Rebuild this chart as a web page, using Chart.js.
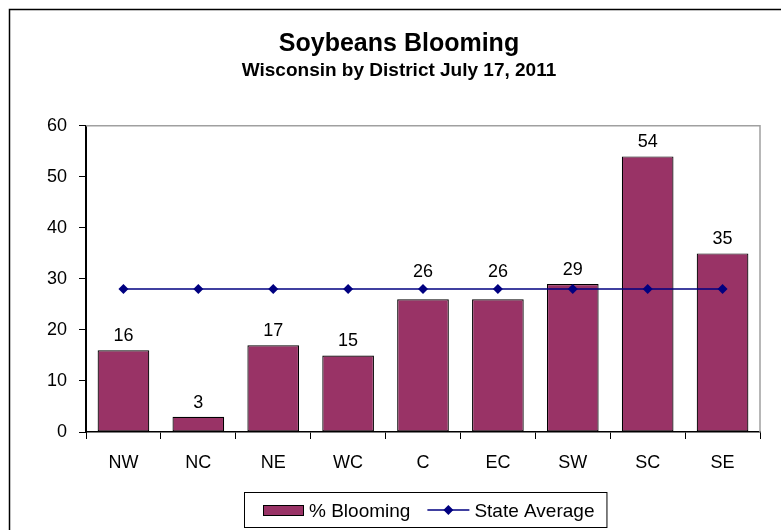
<!DOCTYPE html>
<html>
<head>
<meta charset="utf-8">
<script src="https://cdn.jsdelivr.net/npm/chart.js@4/dist/chart.umd.min.js"></script>
<style>
  html, body { margin: 0; padding: 0; background: #fff; }
  #wrap { width: 781px; height: 530px; }
</style>
</head>
<body>
<div id="wrap"><canvas id="c" width="781" height="530"></canvas></div>
<script>
const districts = ["NW", "NC", "NE", "WC", "C", "EC", "SW", "SC", "SE"];
const pctBlooming = [16, 3, 17, 15, 26, 26, 29, 54, 35];
const stateAverage = [28, 28, 28, 28, 28, 28, 28, 28, 28];
const yTicks = [0, 10, 20, 30, 40, 50, 60];
const titleText = "Soybeans Blooming";
const subtitleText = "Wisconsin by District July 17, 2011";
const seriesNames = ["% Blooming", "State Average"];

const FONT = "'Liberation Sans', Arial, sans-serif";
const BAR_COLOR = "#993366";
const LINE_COLOR = "#000080";

const framePlugin = {
  id: "frame",
  afterDraw(chart) {
    const ctx = chart.ctx;
    const a = chart.chartArea;
    ctx.save();
    // outer frame
    ctx.strokeStyle = "#000";
    ctx.lineWidth = 1.5;
    ctx.beginPath();
    ctx.moveTo(9.5, 531);
    ctx.lineTo(9.5, 9.5);
    ctx.lineTo(782, 9.5);
    ctx.stroke();
    // plot area grey border top/right
    ctx.strokeStyle = "#a0a0a0";
    ctx.lineWidth = 1.5;
    ctx.beginPath();
    ctx.moveTo(a.left, a.top);
    ctx.lineTo(a.right, a.top);
    ctx.lineTo(a.right, a.bottom);
    ctx.stroke();
    // data labels (moved above the average line when they would cross it)
    ctx.fillStyle = "#000";
    ctx.font = "18px " + FONT;
    ctx.textAlign = "center";
    ctx.textBaseline = "alphabetic";
    const meta = chart.getDatasetMeta(0);
    const lineMeta = chart.getDatasetMeta(1);
    meta.data.forEach((bar, i) => {
      let base = bar.y - 9;
      const ly = lineMeta.data[i] ? lineMeta.data[i].y : -1e9;
      if (base + 4 > ly && base - 13 - 4 < ly) base = ly - 12;
      ctx.fillText(String(chart.data.datasets[0].data[i]), bar.x, base);
    });
    // legend
    const lx = 244, ly = 492, lh = 35;
    ctx.font = "19px " + FONT;
    const t1 = chart.data.datasets[0].label;
    const t2 = chart.data.datasets[1].label;
    const w1 = ctx.measureText(t1).width;
    const w2 = ctx.measureText(t2).width;
    let x = lx + 19;
    const cy = ly + lh / 2 + 0.5;
    const boxW = 19 + 40 + 6 + w1 + 17 + 42 + 5 + w2 + 12;
    ctx.strokeStyle = "#000";
    ctx.lineWidth = 1;
    ctx.strokeRect(lx + 0.5, ly + 0.5, boxW, lh);
    ctx.fillStyle = BAR_COLOR;
    ctx.fillRect(x, cy - 5, 40, 10);
    ctx.strokeRect(x + 0.5, cy - 5 + 0.5, 40, 10);
    x += 46;
    ctx.fillStyle = "#000";
    ctx.textAlign = "left";
    ctx.fillText(t1, x, cy + 7);
    x += w1 + 17;
    ctx.strokeStyle = LINE_COLOR;
    ctx.lineWidth = 1.5;
    ctx.beginPath();
    ctx.moveTo(x, cy);
    ctx.lineTo(x + 42, cy);
    ctx.stroke();
    ctx.fillStyle = LINE_COLOR;
    ctx.beginPath();
    ctx.moveTo(x + 21 - 5, cy);
    ctx.lineTo(x + 21, cy - 5);
    ctx.lineTo(x + 21 + 5, cy);
    ctx.lineTo(x + 21, cy + 5);
    ctx.closePath();
    ctx.fill();
    x += 47;
    ctx.fillStyle = "#000";
    ctx.fillText(t2, x, cy + 7);
    ctx.restore();
  }
};

new Chart(document.getElementById("c"), {
  data: {
    labels: districts,
    datasets: [
      {
        type: "bar",
        label: seriesNames[0],
        data: pctBlooming,
        backgroundColor: BAR_COLOR,
        borderColor: "#000",
        borderWidth: 1.2,
        borderSkipped: false,
        categoryPercentage: 1,
        barPercentage: 0.69,
        order: 1
      },
      {
        type: "line",
        label: seriesNames[1],
        data: stateAverage,
        borderColor: LINE_COLOR,
        backgroundColor: LINE_COLOR,
        borderWidth: 1.5,
        pointStyle: "rectRot",
        pointRadius: 5,
        pointBorderWidth: 0,
        tension: 0,
        order: 0
      }
    ]
  },
  options: {
    responsive: false,
    animation: false,
    events: [],
    layout: { padding: { left: 38, right: 21, top: 0, bottom: 58 } },
    plugins: {
      legend: { display: false },
      tooltip: { enabled: false },
      title: {
        display: true,
        text: titleText,
        color: "#000",
        font: { family: FONT, size: 25, weight: "bold" },
        padding: { top: 29, bottom: 0 }
      },
      subtitle: {
        display: true,
        text: subtitleText,
        color: "#000",
        font: { family: FONT, size: 19, weight: "bold" },
        padding: { top: 0, bottom: 44 }
      }
    },
    scales: {
      x: {
        offset: true,
        grid: {
          offset: true,
          drawOnChartArea: false,
          drawTicks: true,
          tickLength: 7,
          color: "#000",
          lineWidth: 1
        },
        border: { display: true, color: "#000", width: 1.5 },
        ticks: {
          color: "#000",
          font: { family: FONT, size: 18 },
          padding: 13,
          maxRotation: 0
        },
        afterFit(s) { s.height = 40; }
      },
      y: {
        min: 0,
        max: 60,
        afterBuildTicks(s) { s.ticks = yTicks.map(v => ({ value: v })); },
        grid: {
          drawOnChartArea: false,
          drawTicks: true,
          tickLength: 7,
          color: "#000",
          lineWidth: 1
        },
        border: { display: true, color: "#000", width: 2 },
        ticks: {
          color: "#000",
          font: { family: FONT, size: 18 },
          padding: 12
        },
        afterFit(s) { s.width = 48; }
      }
    }
  },
  plugins: [framePlugin]
});
</script>
</body>
</html>
